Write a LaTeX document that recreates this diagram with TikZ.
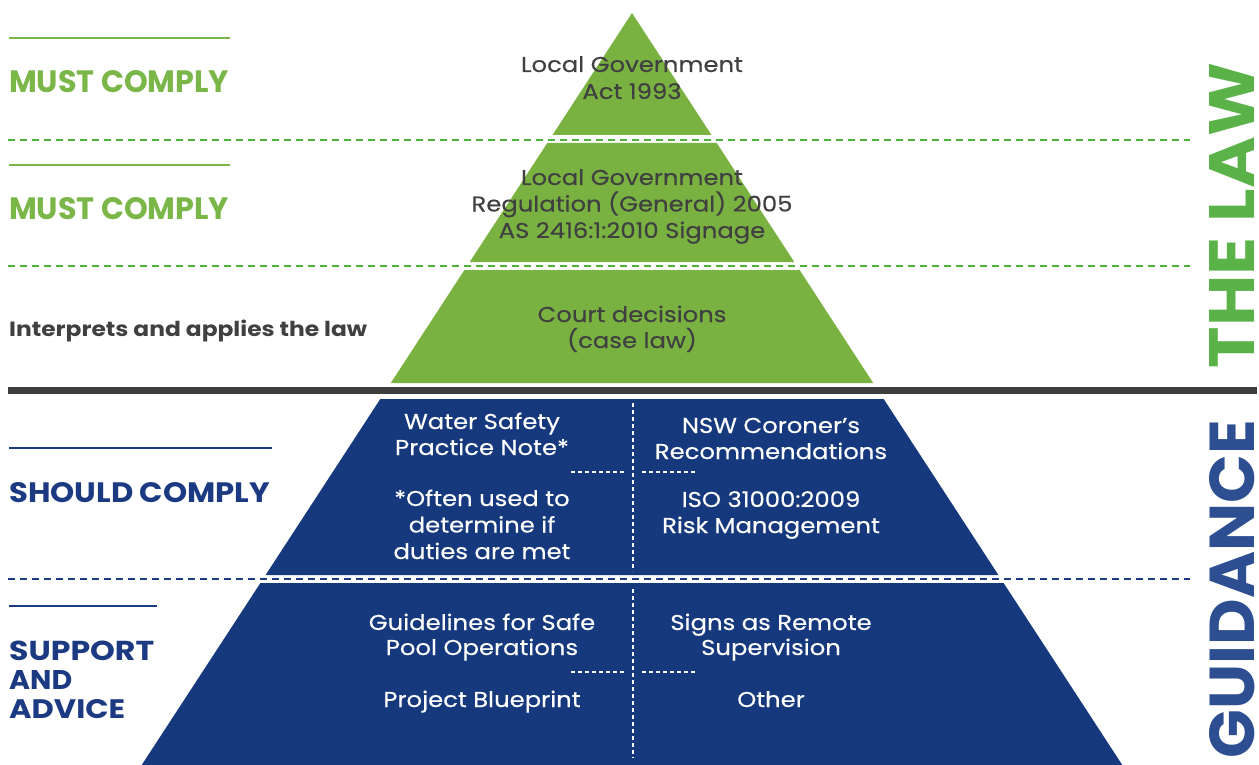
\documentclass[tikz,border=0pt]{standalone}
\usepackage{fontspec}
\setmainfont{Poppins}
\newfontfamily\bodyfont[FakeStretch=1.13,FakeBold=0.3]{Poppins}
\definecolor{lawgreen}{RGB}{122,178,65}
\definecolor{labgreen}{RGB}{122,182,72}
\definecolor{dashgreen}{RGB}{76,176,58}
\definecolor{biggreen}{RGB}{90,178,72}
\definecolor{guideblue}{RGB}{22,57,126}
\definecolor{labblue}{RGB}{27,58,130}
\definecolor{bigblue}{RGB}{45,79,145}
\definecolor{darkgray}{RGB}{62,62,62}
\definecolor{txtgray}{RGB}{64,64,64}
\newcommand\fitlab[3]{\resizebox{#1pt}{#2pt}{\bfseries #3}}
\tikzset{
  greentier/.style={fill=lawgreen, draw=none},
  bluetier/.style={fill=guideblue, draw=none},
  greendash/.style={draw=dashgreen, line width=2pt, dash pattern=on 7pt off 5pt},
  bluedash/.style={draw=labblue, line width=2pt, dash pattern=on 7pt off 5pt},
  whitedash/.style={draw=white, line width=1.1pt, dash pattern=on 4pt off 3pt},
  intext/.style={anchor=base, inner sep=0pt, text=txtgray, font=\bodyfont\fontsize{21.5}{26}\selectfont},
  wtext/.style={anchor=base, inner sep=0pt, text=white, font=\bodyfont\fontsize{21.5}{26}\selectfont},
  glabel/.style={anchor=base west, inner sep=0pt, text=labgreen},
  blabel/.style={anchor=base west, inner sep=0pt, text=labblue},
}
\begin{document}
\begin{tikzpicture}[x=1pt,y=-1pt]
\useasboundingbox (0,0) rectangle (1259,765);
% pyramid tiers
\fill[greentier] (632,13) -- (711.5,135) -- (552.5,135) -- cycle;
\fill[greentier] (547.3,143) -- (716.7,143) -- (794.3,262) -- (469.7,262) -- cycle;
\fill[greentier] (464.4,270) -- (799.6,270) -- (873.2,383) -- (390.8,383) -- cycle;
\fill[bluetier] (380.3,399) -- (883.7,399) -- (998.4,575) -- (265.6,575) -- cycle;
\fill[bluetier] (260.4,583) -- (1003.6,583) -- (1122.3,765) -- (141.7,765) -- cycle;
% horizontal rules
\coordinate (g1l) at (8,140); \coordinate (g1r) at (1190,140);
\coordinate (g2l) at (8,266); \coordinate (g2r) at (1190,266);
\coordinate (b1l) at (8,579); \coordinate (b1r) at (1190,579);
\draw[greendash] (g1l) -- (g1r);
\draw[greendash] (g2l) -- (g2r);
\draw[bluedash] (b1l) -- (b1r);
\coordinate (gl) at (8,390.5); \coordinate (gr) at (1257,390.5);
\draw[darkgray, line width=7pt] (gl) -- (gr);
% solid label lines
\draw[labgreen, line width=1.6pt] (9,38) -- (230,38);
\draw[labgreen, line width=1.6pt] (9,165) -- (230,165);
\draw[labblue, line width=1.6pt] (9,448) -- (272,448);
\draw[labblue, line width=1.6pt] (9,606) -- (157,606);
% white dividers in blue tiers
\draw[whitedash] (633,403) -- (633,571);
\draw[whitedash] (633,589) -- (633,758);
\draw[whitedash] (571,472) -- (624,472);
\draw[whitedash] (642,472) -- (695,472);
\draw[whitedash] (571,672) -- (624,672);
\draw[whitedash] (642,672) -- (695,672);
% left labels
\node[glabel] (l1) at (9,93) {\fitlab{220}{22}{MUST COMPLY}};
\node[glabel] (l2) at (9,219) {\fitlab{220}{22}{MUST COMPLY}};
\node[anchor=base west, inner sep=0pt, text=txtgray] (l3) at (9,336) {\fitlab{358}{16.5}{Interprets and applies the law}};
\node[blabel] (l4) at (9,502) {\fitlab{261}{20}{SHOULD COMPLY}};
\node[blabel] (l5) at (9,660) {\fitlab{145}{19.5}{SUPPORT}};
\node[blabel] (l6) at (9,689) {\fitlab{63}{19}{AND}};
\node[blabel] (l7) at (9,718) {\fitlab{116}{19}{ADVICE}};
% green tier texts
\node[intext] (a1) at (632,72) {Local Government};
\node[intext] (a2) at (632,99) {Act 1993};
\node[intext] (b1) at (632,185) {Local Government};
\node[intext] (b2) at (632,211.5) {Regulation (General) 2005};
\node[intext] (b3) at (632,238) {AS 2416:1:2010 Signage};
\node[intext] (c1) at (632,322) {Court decisions};
\node[intext] (c2) at (632,348) {(case law)};
% blue tier texts
\node[wtext] (d1) at (482,429) {Water Safety};
\node[wtext] (d2) at (482,455) {Practice Note*};
\node[wtext] (d3) at (482,506) {*Often used to};
\node[wtext] (d4) at (482,532.5) {determine if};
\node[wtext] (d5) at (482,559) {duties are met};
\node[wtext] (e1) at (771,433) {NSW Coroner’s};
\node[wtext] (e2) at (771,459) {Recommendations};
\node[wtext] (e3) at (771,507) {ISO 31000:2009};
\node[wtext] (e4) at (771,533) {Risk Management};
\node[wtext] (f1) at (482,630) {Guidelines for Safe};
\node[wtext] (f2) at (482,655) {Pool Operations};
\node[wtext] (f3) at (482,707) {Project Blueprint};
\node[wtext] (h1) at (771,630) {Signs as Remote};
\node[wtext] (h2) at (771,655) {Supervision};
\node[wtext] (h3) at (771,707) {Other};
% vertical titles
\node[rotate=90, inner sep=0pt, text=biggreen] (law) at (1232,215.5) {\resizebox{305pt}{45pt}{\bfseries THE LAW}};
\node[rotate=90, inner sep=0pt, text=bigblue] (guid) at (1232,589) {\resizebox{338pt}{45pt}{\bfseries GUIDANCE}};
\end{tikzpicture}
\end{document}
